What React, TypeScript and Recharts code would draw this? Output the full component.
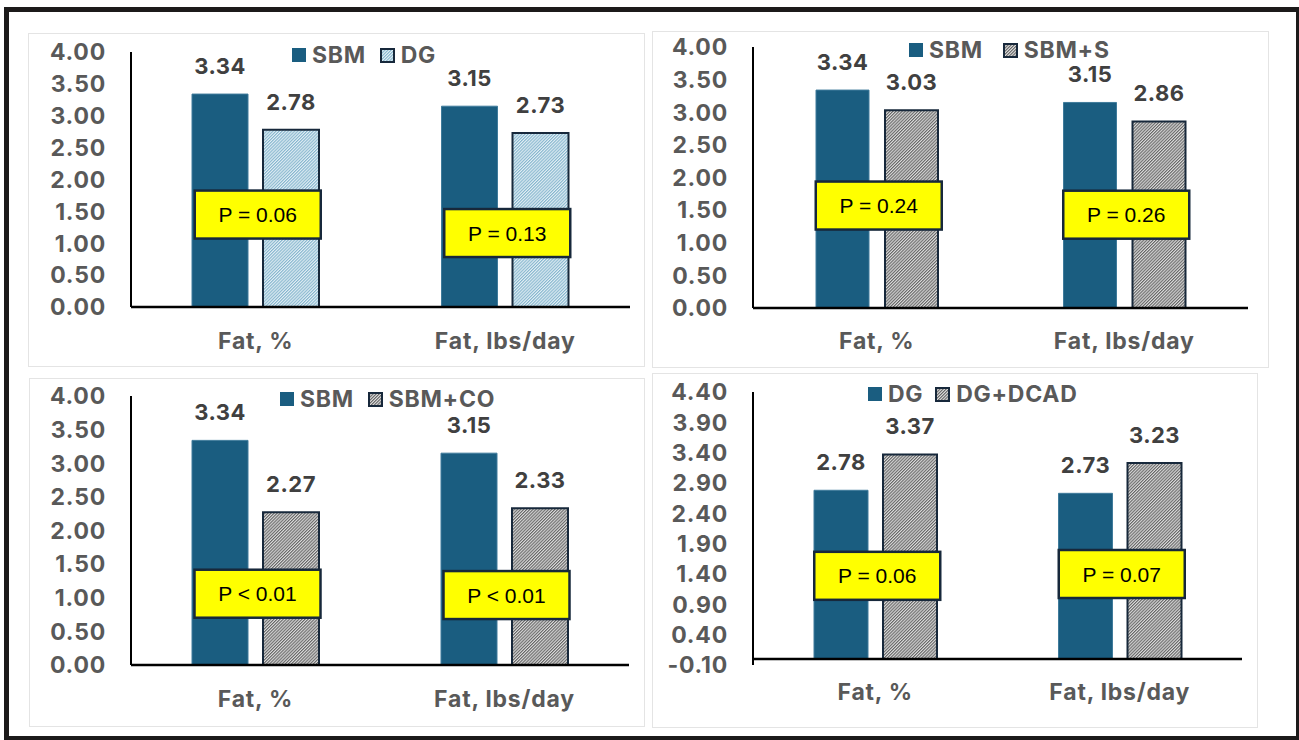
import React from 'react';
import { BarChart, Bar, XAxis, YAxis, ReferenceLine, ReferenceDot, LabelList, Legend } from 'recharts';

const categories = ['Fat, %', 'Fat, lbs/day'];

const p1Names = ['SBM', 'DG'];
const p1A = [3.34, 3.15];
const p1B = [2.78, 2.73];
const p1PText = ['P = 0.06', 'P = 0.13'];
const p1PY = [1.45, 1.16];

const p2Names = ['SBM', 'SBM+S'];
const p2A = [3.34, 3.15];
const p2B = [3.03, 2.86];
const p2PText = ['P = 0.24', 'P = 0.26'];
const p2PY = [1.57, 1.43];

const p3Names = ['SBM', 'SBM+CO'];
const p3A = [3.34, 3.15];
const p3B = [2.27, 2.33];
const p3PText = ['P < 0.01', 'P < 0.01'];
const p3PY = [1.06, 1.04];

const p4Names = ['DG', 'DG+DCAD'];
const p4A = [2.78, 2.73];
const p4B = [3.37, 3.23];
const p4PText = ['P = 0.06', 'P = 0.07'];
const p4PY = [1.37, 1.4];

const ticks0to4 = [0, 0.5, 1, 1.5, 2, 2.5, 3, 3.5, 4];
const ticksNeg = [-0.1, 0.4, 0.9, 1.4, 1.9, 2.4, 2.9, 3.4, 3.9, 4.4];

const FONT = "Inter, 'Liberation Sans', Arial, sans-serif";
const P_FONT = "'Liberation Sans', Arial, sans-serif";
const SOLID = '#1a5d80';
const EDGE = '#17283b';
const GREY_TEXT = '#595959';

type PanelProps = {
  left: number; top: number; w: number; h: number;
  margin: { top: number; right: number; bottom: number; left: number };
  yWidth: number; xHeight: number;
  domain: [number, number]; ticks: number[];
  barSize: number; barGap: number;
  catOffset: number;
  legendLeft: number; legendTop: number; legendGap: number;
  hatch: string;
  names: string[]; a: number[]; b: number[]; pText: string[]; pY: number[];
};

const YTick = (props: any) => {
  const { x, y, payload } = props;
  return (
    <text x={x - 25} y={y} dy="0.36em" textAnchor="end" fill={GREY_TEXT} fontSize={23} fontWeight={700} fontFamily={FONT} letterSpacing={0.8}>
      {Number(payload.value).toFixed(2)}
    </text>
  );
};

const makeXTick = (off: number) => (props: any) => {
  const { x, y, payload } = props;
  return (
    <text x={x} y={y + off} dy="0.36em" textAnchor="middle" fill={GREY_TEXT} fontSize={23} fontWeight={700} fontFamily={FONT} letterSpacing={0.8}>
      {payload.value}
    </text>
  );
};

const PBox = ({ cx, cy, text }: { cx: number; cy: number; text: string }) => (
  <g>
    <rect x={cx + 2 - 63} y={cy - 24} width={126} height={48} fill="#ffff00" stroke={EDGE} strokeWidth={2.5} />
    <text x={cx + 2} y={cy} dy="0.36em" textAnchor="middle" fill="#000" fontSize={21} fontFamily={P_FONT}>
      {text}
    </text>
  </g>
);

const Panel = (p: PanelProps) => {
  const data = categories.map((c, i) => ({ name: c, a: p.a[i], b: p.b[i] }));
  const legendContent = () => (
    <div style={{ display: 'flex', alignItems: 'center', fontFamily: FONT, fontWeight: 700, fontSize: 23, lineHeight: '18px', color: GREY_TEXT, whiteSpace: 'nowrap', letterSpacing: 0.7 }}>
      <span style={{ width: 14, height: 14, background: SOLID, display: 'inline-block', marginRight: 6 }} />
      <span style={{ marginRight: p.legendGap }}>{p.names[0]}</span>
      <svg width={15} height={15} style={{ marginRight: 6 }}>
        <rect x={1} y={1} width={13} height={13} fill={`url(#${p.hatch})`} stroke={EDGE} strokeWidth={2} />
      </svg>
      <span>{p.names[1]}</span>
    </div>
  );
  return (
    <div style={{ position: 'absolute', left: p.left, top: p.top, width: p.w, height: p.h, border: '1px solid #e4e4e4', boxSizing: 'border-box' }}>
      <div style={{ position: 'absolute', left: -1, top: -1 }}>
        <BarChart width={p.w} height={p.h} data={data} margin={p.margin} barSize={p.barSize} barGap={p.barGap}>
          <XAxis dataKey="name" axisLine={false} tickLine={false} tickSize={0} tickMargin={0} height={p.xHeight} tick={makeXTick(p.catOffset)} interval={0} />
          <YAxis domain={p.domain} ticks={p.ticks} type="number" allowDataOverflow width={p.yWidth} tickLine={false} tickSize={0} tickMargin={0}
            axisLine={{ stroke: '#000', strokeWidth: 2 }} tick={YTick} interval={0} />
          <Legend layout="horizontal" verticalAlign="middle" align="center" content={legendContent}
            wrapperStyle={{ left: p.legendLeft, top: p.legendTop, width: 'auto', height: 'auto' }} />
          <Bar dataKey="a" fill={SOLID} stroke="#3f7b9b" strokeWidth={1} isAnimationActive={false}>
            <LabelList dataKey="a" position="top" offset={20} fill="#404040" fontSize={22} fontWeight={700} fontFamily={FONT} letterSpacing={0.5}
              formatter={(v: any) => Number(v).toFixed(2)} />
          </Bar>
          <Bar dataKey="b" fill={`url(#${p.hatch})`} stroke={EDGE} strokeWidth={2} isAnimationActive={false}>
            <LabelList dataKey="b" position="top" offset={20} fill="#404040" fontSize={22} fontWeight={700} fontFamily={FONT} letterSpacing={0.5}
              formatter={(v: any) => Number(v).toFixed(2)} />
          </Bar>
          <ReferenceLine y={0} stroke="#000" strokeWidth={2.5} />
          {categories.map((c, i) => (
            <ReferenceDot key={c} x={c} y={p.pY[i]} r={0} ifOverflow="visible"
              shape={(sp: any) => <PBox cx={sp.cx} cy={sp.cy} text={p.pText[i]} />} />
          ))}
        </BarChart>
      </div>
    </div>
  );
};

export default function App() {
  return (
    <div style={{ position: 'absolute', left: 0, top: 0, width: 1299, height: 740, background: '#fff', overflow: 'hidden' }}>
      <svg width={0} height={0} style={{ position: 'absolute' }}>
        <defs>
          <pattern id="hatchBlue" width={2.2} height={2.2} patternUnits="userSpaceOnUse" patternTransform="rotate(45)">
            <rect width={2.2} height={2.2} fill="#e3eff5" />
            <rect width={1.1} height={2.2} fill="#86b6ce" />
          </pattern>
          <pattern id="hatchGrey" width={2.2} height={2.2} patternUnits="userSpaceOnUse" patternTransform="rotate(45)">
            <rect width={2.2} height={2.2} fill="#dcdcdc" />
            <rect width={1.1} height={2.2} fill="#666666" />
          </pattern>
        </defs>
      </svg>

      <Panel left={28} top={33} w={617} h={334}
        margin={{ top: 19, right: 15, bottom: 15, left: 0 }} yWidth={103} xHeight={45}
        domain={[0, 4]} ticks={ticks0to4} barSize={56} barGap={15} catOffset={34}
        legendLeft={264} legendTop={13} legendGap={14} hatch="hatchBlue"
        names={p1Names} a={p1A} b={p1B} pText={p1PText} pY={p1PY} />

      <Panel left={652} top={31} w={617} h={337}
        margin={{ top: 16, right: 21, bottom: 15, left: 0 }} yWidth={101} xHeight={45}
        domain={[0, 4]} ticks={ticks0to4} barSize={53} barGap={16} catOffset={33}
        legendLeft={257} legendTop={10} legendGap={20} hatch="hatchGrey"
        names={p2Names} a={p2A} b={p2B} pText={p2PText} pY={p2PY} />

      <Panel left={29} top={378} w={616} h={349}
        margin={{ top: 18, right: 16, bottom: 15, left: 0 }} yWidth={102} xHeight={47}
        domain={[0, 4]} ticks={ticks0to4} barSize={56} barGap={15} catOffset={34}
        legendLeft={251} legendTop={12} legendGap={14} hatch="hatchGrey"
        names={p3Names} a={p3A} b={p3B} pText={p3PText} pY={p3PY} />

      <Panel left={652} top={373} w={606} h={355}
        margin={{ top: 19, right: 16, bottom: 15, left: 0 }} yWidth={101} xHeight={48}
        domain={[-0.1, 4.4]} ticks={ticksNeg} barSize={54} barGap={15} catOffset={27}
        legendLeft={216} legendTop={12} legendGap={12} hatch="hatchGrey"
        names={p4Names} a={p4A} b={p4B} pText={p4PText} pY={p4PY} />

      <div style={{ position: 'absolute', left: 4, top: 7, width: 1295, height: 5, background: '#1c1a1a' }} />
      <div style={{ position: 'absolute', left: 4, top: 7, width: 5, height: 733, background: '#1c1a1a' }} />
      <div style={{ position: 'absolute', left: 1296, top: 7, width: 3, height: 733, background: '#1c1a1a' }} />
      <div style={{ position: 'absolute', left: 4, top: 736, width: 1295, height: 4, background: '#1c1a1a' }} />
    </div>
  );
}
